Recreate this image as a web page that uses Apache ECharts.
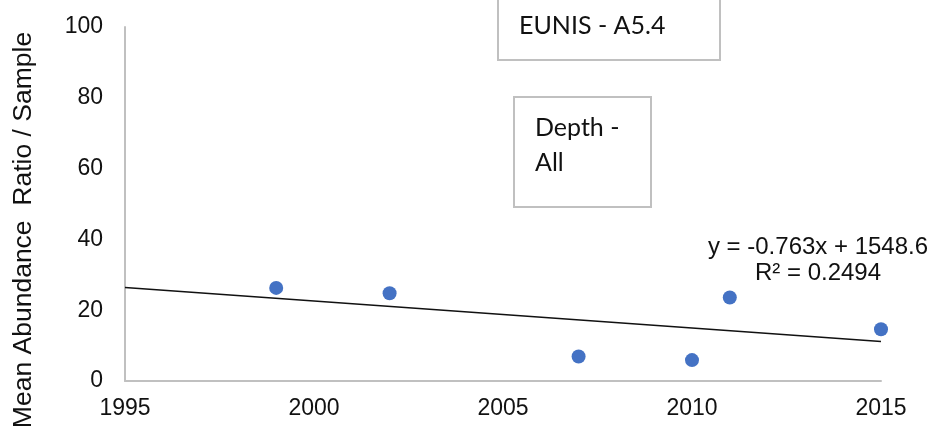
<!DOCTYPE html>
<html>
<head>
<meta charset="utf-8">
<script src="https://cdn.jsdelivr.net/npm/echarts@6/dist/echarts.min.js"></script>
<style>
  html, body { margin: 0; padding: 0; background: #fff; }
  #chart { width: 937px; height: 429px; }
</style>
</head>
<body>
<div id="chart"></div>
<script>
// Sampling years and mean abundance ratio per sample
const years = [1999, 2002, 2007, 2010, 2011, 2015];
const abundance = [26.3, 24.8, 6.9, 5.9, 23.6, 14.6];

// Linear trend: y = slope * x + intercept
const trendSlope = -0.763;
const trendIntercept = 1548.6;
const trendR2 = 0.2494;
const trendSpan = [1995, 2015];

// Axis ticks
const xTicks = [1995, 2000, 2005, 2010, 2015];
const yTicks = [0, 20, 40, 60, 80, 100];

const yTitle = 'Mean Abundance  Ratio / Sample';

const points = years.map((yr, i) => [yr, abundance[i]]);
const trendPoints = trendSpan.map(x => [x, trendSlope * x + trendIntercept]);
const eqText = 'y = ' + trendSlope + 'x + ' + trendIntercept + '\nR\u00B2 = ' + trendR2;

const chart = echarts.init(document.getElementById('chart'));
chart.setOption({
  animation: false,
  backgroundColor: '#ffffff',
  grid: { left: 125, right: 56, top: 27, bottom: 48 },
  xAxis: {
    type: 'value',
    min: xTicks[0],
    max: xTicks[xTicks.length - 1],
    interval: xTicks[1] - xTicks[0],
    axisLine: { show: true, onZero: false, lineStyle: { color: '#c0c0c0', width: 2 } },
    axisTick: { show: false },
    splitLine: { show: false },
    axisLabel: {
      color: '#111', fontFamily: 'Liberation Sans', fontSize: 23, margin: 16,
      formatter: v => String(v)
    }
  },
  yAxis: {
    type: 'value',
    min: yTicks[0],
    max: yTicks[yTicks.length - 1],
    interval: yTicks[1] - yTicks[0],
    axisLine: { show: true, lineStyle: { color: '#c0c0c0', width: 2 } },
    axisTick: { show: false },
    splitLine: { show: false },
    axisLabel: { color: '#111', fontFamily: 'Liberation Sans', fontSize: 23, margin: 22 }
  },
  series: [
    {
      type: 'line',
      data: trendPoints,
      symbol: 'none',
      lineStyle: { color: '#111', width: 1.3 },
      z: 2
    },
    {
      type: 'scatter',
      data: points,
      symbolSize: 14,
      itemStyle: { color: '#4472C4', opacity: 1 },
      z: 3
    }
  ],
  graphic: [
    {
      // vertical axis title
      type: 'text',
      x: 24, y: 230,
      rotation: Math.PI / 2,
      style: { text: yTitle, fill: '#111', font: '26.5px "Liberation Sans"', align: 'center', verticalAlign: 'middle' }
    },
    {
      type: 'rect',
      shape: { x: 498, y: -2, width: 222, height: 62 },
      style: { fill: '#fff', stroke: '#c0c0c0', lineWidth: 2 }
    },
    {
      type: 'text',
      x: 519, y: 26,
      style: { text: 'EUNIS - A5.4', fill: '#111', font: '25px Lato', verticalAlign: 'middle' }
    },
    {
      type: 'rect',
      shape: { x: 514, y: 97, width: 137, height: 110 },
      style: { fill: '#fff', stroke: '#c0c0c0', lineWidth: 2 }
    },
    {
      type: 'text',
      x: 535, y: 110,
      style: { text: 'Depth -\nAll', fill: '#111', font: '25px Lato', lineHeight: 35 }
    },
    {
      type: 'text',
      x: 818, y: 260,
      style: { text: eqText, fill: '#111', font: '24px "Liberation Sans"', align: 'center', verticalAlign: 'middle', lineHeight: 26 }
    }
  ]
});
</script>
</body>
</html>
